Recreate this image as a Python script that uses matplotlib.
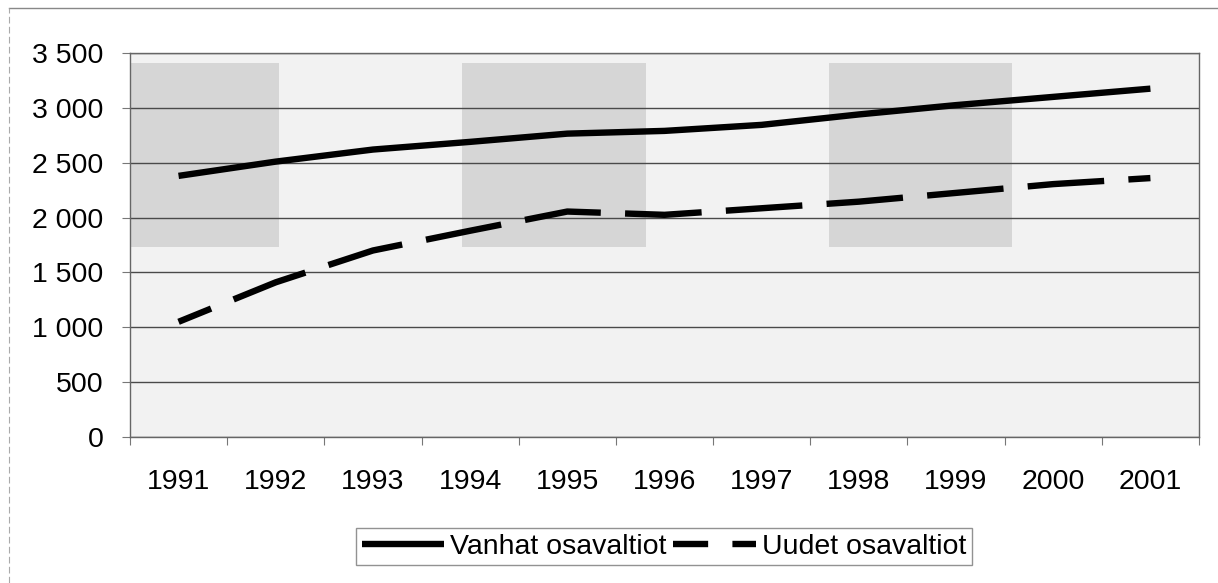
import matplotlib.pyplot as plt
from matplotlib.patches import Rectangle
from matplotlib.lines import Line2D
from matplotlib.ticker import FuncFormatter, FixedLocator

plt.rcParams['font.family'] = ['Liberation Sans', 'DejaVu Sans']

# data
years = ['1991', '1992', '1993', '1994', '1995', '1996', '1997', '1998', '1999', '2000', '2001']
vanhat = [2380, 2510, 2620, 2690, 2765, 2790, 2845, 2940, 3025, 3100, 3175]
uudet = [1050, 1410, 1700, 1880, 2055, 2025, 2085, 2145, 2225, 2305, 2360]
labels = ['Vanhat osavaltiot', 'Uudet osavaltiot']

fig = plt.figure(figsize=(12.18, 5.83), dpi=100)
ax = fig.add_axes([0.1067, 0.2504, 0.8777, 0.6587])
ax.set_facecolor('#f2f2f2')

# scanned background blocks (decoration only)
for x0, x1 in [(0.001, 0.139), (0.311, 0.483), (0.654, 0.825)]:
    ax.add_patch(Rectangle((x0, 0.495), x1 - x0, 0.479, transform=ax.transAxes,
                           facecolor='#d6d6d6', edgecolor='none', zorder=0))

x = list(range(len(years)))
ax.plot(x, vanhat, color='black', lw=4.6, solid_capstyle='butt', label=labels[0], zorder=3)
ax.plot(x, uudet, color='black', lw=4.6, linestyle=(6.5, (12.0, 3.8)),
        dash_capstyle='butt', label=labels[1], zorder=3)

ax.set_xlim(-0.5, len(years) - 0.5)
ax.set_ylim(0, 3500)
ax.set_yticks(range(0, 3501, 500))
ax.yaxis.set_major_formatter(FuncFormatter(lambda v, p: f'{int(v):,}'.replace(',', ' ')))
ax.yaxis.grid(True, color='#4a4a4a', lw=1.0)
ax.set_axisbelow(True)

ax.set_xticks(x)
ax.set_xticklabels(years)
ax.xaxis.set_minor_locator(FixedLocator([i - 0.5 for i in range(len(years) + 1)]))
ax.tick_params(axis='x', which='major', length=0, pad=23, labelsize=20.5)
ax.tick_params(axis='x', which='minor', length=6, color='#777777', width=0.8)
ax.tick_params(axis='y', length=6, color='#777777', width=0.8, pad=13, labelsize=20.5)

for s in ax.spines.values():
    s.set_color('#666666')
    s.set_linewidth(1.0)

leg = fig.legend(loc='center', bbox_to_anchor=(0.545, 0.0626), ncol=2, fontsize=20.5,
                 frameon=True, fancybox=False, edgecolor='#777777', handlelength=2.9,
                 handletextpad=0.2, columnspacing=0.25, borderpad=0.2, borderaxespad=0)
leg.get_frame().set_linewidth(1.0)

# outer chart border (scan)
fig.add_artist(Line2D([0.0074, 1.0], [0.986, 0.986], transform=fig.transFigure,
                      color='#888888', lw=1.0))
fig.add_artist(Line2D([0.0074, 0.0074], [0.0, 0.986], transform=fig.transFigure,
                      color='#aaaaaa', lw=0.8, linestyle=(0, (6, 3))))

fig.savefig('out.png', dpi=100)
